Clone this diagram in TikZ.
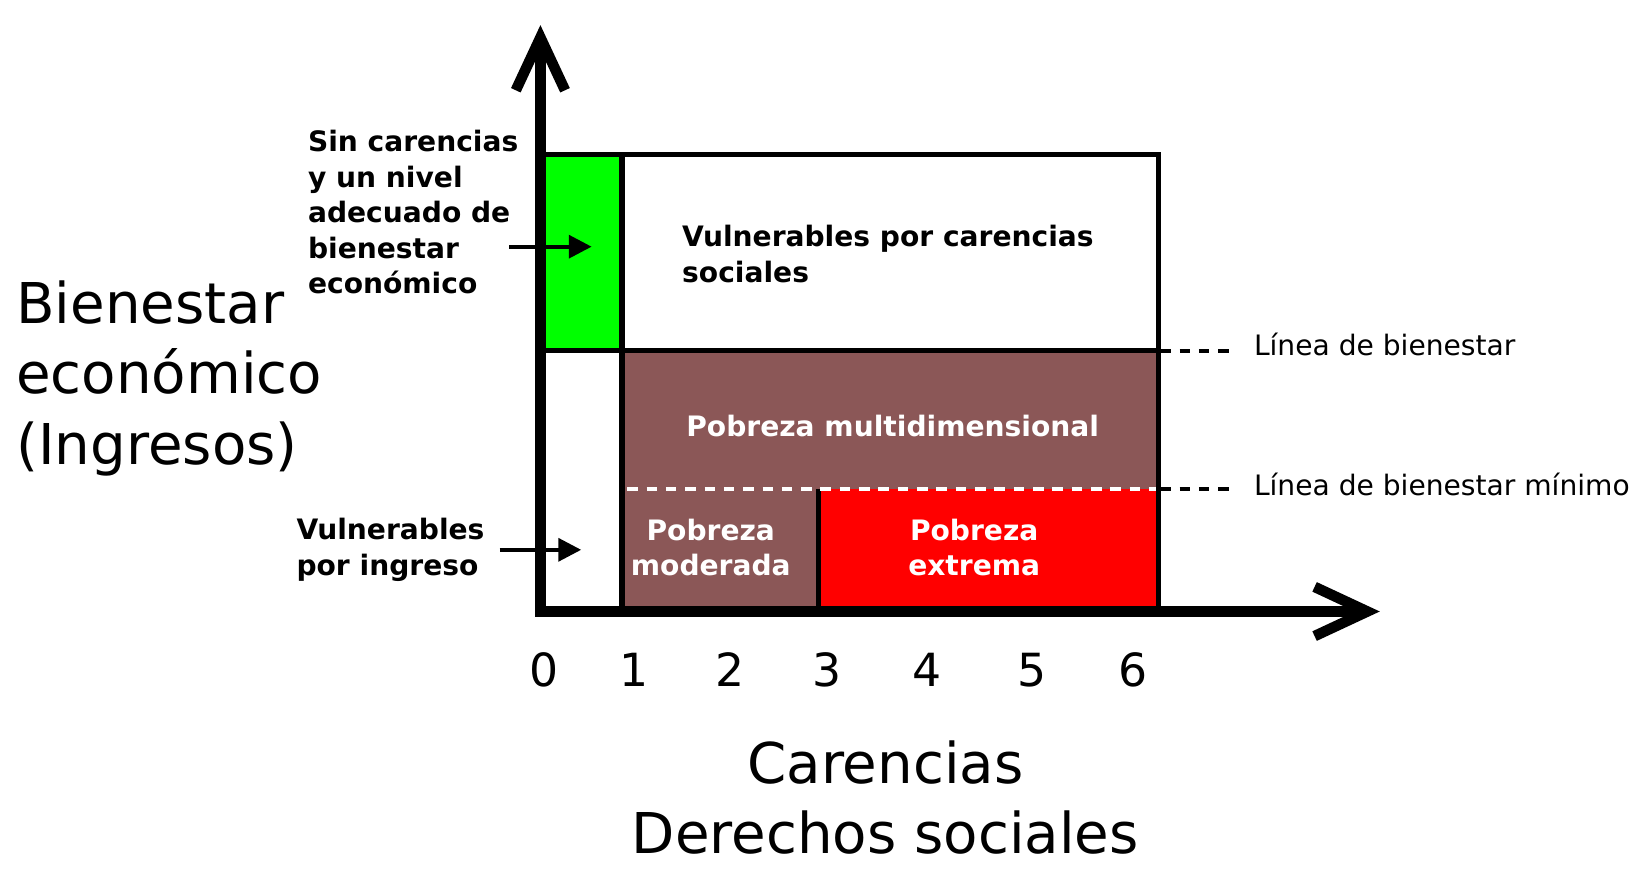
\documentclass[tikz,border=0pt]{standalone}
\usepackage{fontspec}
\setmainfont{DejaVu Sans}
\usepackage{xcolor}
\usetikzlibrary{arrows.meta}

\definecolor{verde}{RGB}{0,255,0}
\definecolor{marron}{RGB}{139,87,87}
\definecolor{rojo}{RGB}{255,0,0}

\begin{document}
\begin{tikzpicture}[x=0.010453cm,y=-0.010453cm,
			eje/.style={line width=3pt,-{Straight Barb[length=15pt,width=14pt]}},
			caja/.style={line width=1.5pt},
			guia/.style={dash pattern=on 3pt off 2.5pt, line width=1.3pt},
			flecha/.style={line width=1.1pt,-{Triangle[length=6.5pt,width=6.5pt]}},
			grande/.style={font=\fontsize{16}{20}\selectfont,inner sep=0pt},
			etiq/.style={font=\fontsize{8}{10.1}\selectfont\bfseries,inner sep=0pt},
			linea/.style={font=\fontsize{8}{10}\selectfont,inner sep=0pt,anchor=west},
			]
			\useasboundingbox (0,0) rectangle (1568,852);
			
			% regiones
			\fill[verde] (520,148) rectangle (595,335);
			\fill[marron] (595,335) rectangle (1108,468);
			\fill[marron] (595,468) rectangle (783,585);
			\fill[rojo] (783,468) rectangle (1108,585);
			
			% bordes
			\draw[caja] (517,148) rectangle (1108,335);
			\draw[caja] (595,148) -- (595,585);
			\draw[caja] (1108,335) -- (1108,585);
			\draw[caja] (783,468) -- (783,585);
			\draw[guia,white] (600,468) -- (1106,468);
			
			% lineas de bienestar
			\draw[guia] (1110,336) -- (1182,336);
			\draw[guia] (1110,468) -- (1182,468);
			\node[linea] (lb) at (1199,330) {Línea de bienestar};
			\node[linea] (lbm) at (1199,463) {Línea de bienestar mínimo};
			
			% ejes
			\coordinate (O) at (517,585);
			\coordinate (ytip) at (517,24);
			\coordinate (xtip) at (1320,585);
			\draw[eje] (O) -- (ytip);
			\draw[eje] ([xshift=-1.5pt]O) -- (xtip);
			
			% carencias
			\foreach \n/\x in {0/520,1/607,2/698,3/791,4/887,5/987,6/1084}
			\node[font=\fontsize{13}{15}\selectfont] (c\n) at (\x,641) {\n};
			
			% textos
			\node[grande,anchor=west,align=left] (bien) at (15,362) {Bienestar\\económico\\(Ingresos)};
			\node[grande,align=center] (car) at (847,763) {Carencias\\Derechos sociales};
			\node[etiq,anchor=west,align=left] (sin) at (294,203) {Sin carencias\\y un nivel\\adecuado de\\bienestar\\económico};
			\node[etiq,anchor=west,align=left] (vi) at (283,526) {Vulnerables\\por ingreso};
			\node[etiq,anchor=west,align=left] (vc) at (652,243) {Vulnerables por carencias\\sociales};
			\node[etiq,white] (pm) at (854,408) {Pobreza multidimensional};
			\node[etiq,white,align=center] (pmo) at (680,524) {Pobreza\\moderada};
			\node[etiq,white,align=center] (pe) at (932,524) {Pobreza\\extrema};
			
			% flechas
			\coordinate (f1) at (487,236);
			\coordinate (f1e) at (566,236);
			\coordinate (f2) at (478,526);
			\coordinate (f2e) at (556,526);
			\draw[flecha] (f1) -- (f1e);
			\draw[flecha] (f2) -- (f2e);
		\end{tikzpicture}
\end{document}
